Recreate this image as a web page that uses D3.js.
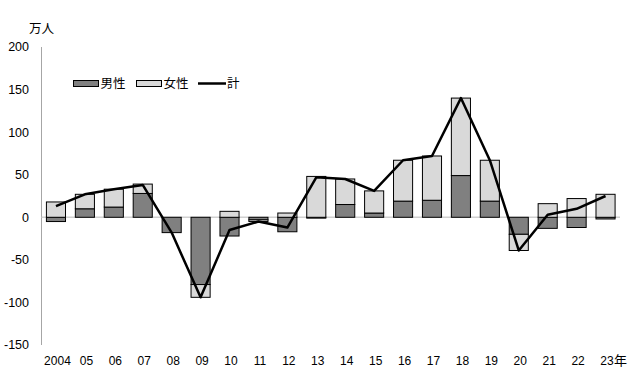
<!DOCTYPE html>
<html>
<head>
<meta charset="utf-8">
<script src="https://cdn.jsdelivr.net/npm/d3@7"></script>
<style>
  body { margin: 0; background: #fff; }
  svg text { font-family: "Liberation Sans", "Noto Sans CJK JP", sans-serif; fill: #000; }
</style>
</head>
<body>
<div id="chart"></div>
<script>
const years = ['2004', '05', '06', '07', '08', '09', '10', '11', '12', '13',
  '14', '15', '16', '17', '18', '19', '20', '21', '22', '23']
const male = [-5, 10, 12, 28, -18, -79, -22, -3, -17, -1, 15, 5, 19, 20, 49, 19, -20, -13, -12, -2]
const female = [18, 17, 21, 11, 0, -15, 7, -2, 5, 48, 30, 26, 48, 52, 91, 48, -19, 16, 22, 27]
const total = [13, 27, 33, 38, -18, -94, -15, -5, -12, 47, 45, 31, 67, 72, 140, 67, -39, 3, 10, 25]
const yTicks = [200, 150, 100, 50, 0, -50, -100, -150]

const w = 638
const h = 382
const color_male = '#808080'
const color_female = '#d9d9d9'

const svg = d3.select('#chart').append('svg').attr('width', w).attr('height', h)

const xScale = d3.scaleBand().domain(years).range([41.5, 620])
  .paddingInner(0.34).paddingOuter(0.17)
const yScale = d3.scaleLinear().domain([-150, 200]).range([345, 47])

// stacked values, positives and negatives stacked apart (like Excel)
const stacks = years.map((y, i) => {
  let pos = 0, neg = 0
  return [['m', male[i]], ['f', female[i]]].map(([k, v]) => {
    let y0, y1
    if (v >= 0) { y0 = pos; y1 = pos + v; pos = y1 } else { y0 = neg; y1 = neg + v; neg = y1 }
    return { year: y, key: k, y0: y0, y1: y1 }
  })
}).flat().filter(d => d.y0 !== d.y1)

// y axis line
svg.append('line')
  .attr('x1', 41.5).attr('x2', 41.5)
  .attr('y1', yScale(200)).attr('y2', yScale(-150))
  .attr('stroke', '#a6a6a6').attr('stroke-width', 1)

// zero line
svg.append('line')
  .attr('x1', 41.5).attr('x2', 620)
  .attr('y1', yScale(0)).attr('y2', yScale(0))
  .attr('stroke', '#d0d0d0').attr('stroke-width', 1.5)

// y tick labels
svg.append('g').selectAll('text').data(yTicks).join('text')
  .attr('x', 29).attr('y', d => yScale(d))
  .attr('dy', '0.35em').attr('text-anchor', 'end')
  .style('font-size', '12.5px')
  .text(d => d)

// x labels
svg.append('g').selectAll('text').data(years).join('text')
  .attr('x', d => xScale(d) + xScale.bandwidth() / 2 + 1.5)
  .attr('y', 365).attr('text-anchor', 'middle')
  .style('font-size', '12px')
  .text(d => d)

svg.append('text').text('年')
  .attr('x', 614).attr('y', 364.5)
  .style('font-size', '13px')

svg.append('text').text('万人')
  .attr('x', 29).attr('y', 32.5)
  .style('font-size', '12.5px')

// bars
svg.append('g').selectAll('rect').data(stacks).join('rect')
  .attr('x', d => xScale(d.year))
  .attr('width', xScale.bandwidth())
  .attr('y', d => yScale(Math.max(d.y0, d.y1)))
  .attr('height', d => Math.abs(yScale(d.y0) - yScale(d.y1)))
  .attr('fill', d => (d.key === 'm' ? color_male : color_female))
  .attr('stroke', '#000').attr('stroke-width', 1)

// total line
const line = d3.line()
  .x((d, i) => xScale(years[i]) + xScale.bandwidth() / 2)
  .y(d => yScale(d))
svg.append('path').datum(total)
  .attr('d', line)
  .attr('fill', 'none').attr('stroke', '#000')
  .attr('stroke-width', 2.5).attr('stroke-linejoin', 'round')

// legend
const legend = svg.append('g').attr('id', 'legend')
legend.append('rect').attr('x', 73.5).attr('y', 80.5).attr('width', 25).attr('height', 6)
  .attr('fill', color_male).attr('stroke', '#000')
legend.append('text').text('男性').attr('x', 100.5).attr('y', 88).style('font-size', '12.5px')
legend.append('rect').attr('x', 136.5).attr('y', 80.5).attr('width', 25).attr('height', 6)
  .attr('fill', color_female).attr('stroke', '#000')
legend.append('text').text('女性').attr('x', 163.5).attr('y', 88).style('font-size', '12.5px')
legend.append('line').attr('x1', 198).attr('x2', 226).attr('y1', 83.5).attr('y2', 83.5)
  .attr('stroke', '#000').attr('stroke-width', 2.5)
legend.append('text').text('計').attr('x', 227).attr('y', 88).style('font-size', '12.5px')
</script>
</body>
</html>
